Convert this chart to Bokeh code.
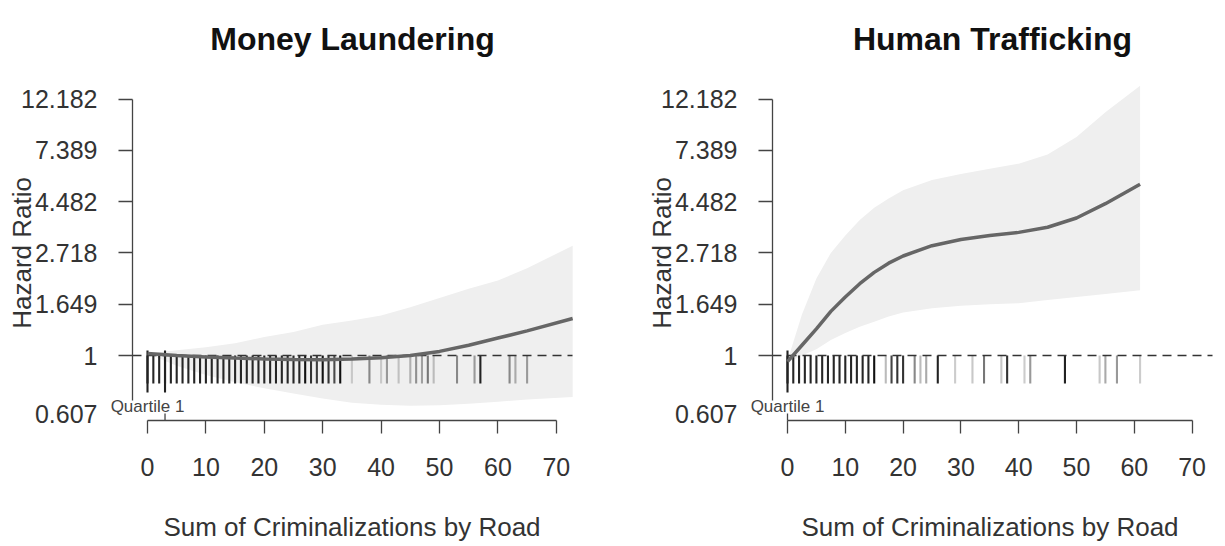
import math
from bokeh.plotting import figure
from bokeh.models import FixedTicker, Label, Range1d, ColumnDataSource
from bokeh.layouts import row
from bokeh.embed import file_html
from bokeh.resources import INLINE

FONT = "Liberation Sans"

# ---------------- data ----------------
titles = ["Money Laundering", "Human Trafficking"]
x_label = "Sum of Criminalizations by Road"
y_label = "Hazard Ratio"
x_ticks = [0, 10, 20, 30, 40, 50, 60, 70]
y_ticks = [0.0, 0.5, 1.0, 1.5, 2.0, 2.5]          # log hazard ratio
y_tick_labels = ["1", "1.649", "2.718", "4.482", "7.389", "12.182"]
y_low_tick = -0.5
y_low_label = "0.607"
quartile_label = "Quartile 1"

# Money Laundering: smoothed log hazard ratio with confidence band
ml_x = [0, 5, 10, 15, 20, 25, 30, 35, 40, 45, 50, 55, 60, 65, 72.8]
ml_fit = [0.02, 0.0, -0.015, -0.025, -0.033, -0.04, -0.042, -0.035, -0.022, 0.0, 0.04, 0.10, 0.17, 0.24, 0.36]
ml_lo = [0.02, -0.10, -0.19, -0.26, -0.32, -0.37, -0.42, -0.46, -0.48, -0.49, -0.485, -0.47, -0.45, -0.43, -0.405]
ml_hi = [0.02, 0.05, 0.08, 0.12, 0.18, 0.23, 0.30, 0.34, 0.39, 0.47, 0.56, 0.65, 0.73, 0.85, 1.07]
ml_rug = list(range(0, 34)) + [35, 38, 40, 41, 43, 45, 46, 47, 48, 49, 53, 56, 57, 62, 63, 65]
ml_rug_color = (["#262626"] * 27 + ["#111111", "#333333", "#3c3c3c", "#111111", "#333333", "#4a4a4a", "#111111"]
                + ["#c8c8c8", "#888888", "#c8c8c8", "#999999", "#c0c0c0", "#b0b0b0", "#909090",
                   "#a0a0a0", "#777777", "#bbbbbb", "#888888", "#999999", "#222222", "#888888",
                   "#aaaaaa", "#999999"])
ml_tall = [0, 3]
ml_q1 = 3

# Human Trafficking
ht_x = [0, 2.5, 5, 7.5, 10, 12.5, 15, 17.5, 20, 25, 30, 35, 40, 45, 50, 55, 61]
ht_fit = [-0.06, 0.10, 0.26, 0.43, 0.57, 0.70, 0.81, 0.90, 0.97, 1.07, 1.13, 1.17, 1.20, 1.25, 1.34, 1.48, 1.67]
ht_lo = [-0.07, 0.0, 0.06, 0.15, 0.22, 0.28, 0.33, 0.38, 0.42, 0.46, 0.485, 0.50, 0.51, 0.54, 0.57, 0.60, 0.635]
ht_hi = [-0.05, 0.40, 0.75, 1.00, 1.17, 1.32, 1.44, 1.53, 1.61, 1.71, 1.77, 1.82, 1.87, 1.96, 2.13, 2.37, 2.63]
ht_rug = list(range(0, 16)) + [17, 18, 19, 20, 22, 23, 24, 26, 29, 32, 34, 37, 38, 41, 42, 48, 54, 55, 57, 61]
ht_rug_color = (["#262626"] * 15 + ["#111111"]
                + ["#bbbbbb", "#444444", "#333333", "#333333", "#888888", "#bbbbbb", "#aaaaaa",
                   "#222222", "#cccccc", "#c8c8c8", "#777777", "#c8c8c8", "#333333", "#cccccc",
                   "#999999", "#222222", "#c8c8c8", "#aaaaaa", "#999999", "#cccccc"])
ht_tall = [0]
ht_q1 = 0

# ---------------- layout / style ----------------
HEIGHT = 544
Y0_PX, Y_PPU = 355.0, 102.6          # pixel row of log-HR 0, pixels per log unit


def y_at(py):
    return (Y0_PX - py) / Y_PPU


Y_RANGE = (y_at(HEIGHT), y_at(0))
X_AXIS_Y = y_at(420)                 # where the x axis sits
Y_AXIS_BOTTOM = y_at(400)            # lower end of the y axis line
RUG_TOP, RUG_BOTTOM = 0.0, y_at(383)
TALL_TOP, TALL_BOTTOM = y_at(350), y_at(392)
QTICK_TOP = y_at(413)
TXT = "#333333"
AX = "#444444"


def panel(title, xs, fit, lo, hi, rug, rug_col, tall, q1, width, x0_px, ppu, yaxis_px, right_px):
    def x_at(px):
        return (px - x0_px) / ppu

    p = figure(width=width, height=HEIGHT, x_range=Range1d(x_at(0), x_at(width)),
               y_range=Range1d(*Y_RANGE), output_backend="svg", toolbar_location=None,
               min_border_left=0, min_border_right=0, min_border_top=0, min_border_bottom=0)
    p.outline_line_color = None
    p.xgrid.visible = False
    p.ygrid.visible = False
    p.background_fill_color = "white"
    p.border_fill_color = "white"

    yaxis_x = x_at(yaxis_px)
    plot_right = x_at(right_px)

    xa = p.xaxis[0]
    xa.fixed_location = X_AXIS_Y
    xa.ticker = FixedTicker(ticks=x_ticks)
    xa.bounds = (x_ticks[0], x_ticks[-1])
    xa.major_tick_out = 13
    xa.major_tick_in = 0
    xa.minor_tick_line_color = None
    xa.axis_line_color = AX
    xa.major_tick_line_color = AX
    xa.axis_line_width = 1.3
    xa.major_tick_line_width = 1.3
    xa.major_label_text_font = FONT
    xa.major_label_text_font_size = "25px"
    xa.major_label_text_color = TXT
    xa.major_label_standoff = 24
    xa.axis_label = x_label
    xa.axis_label_text_font = FONT
    xa.axis_label_text_font_size = "26px"
    xa.axis_label_text_font_style = "normal"
    xa.axis_label_text_color = TXT
    xa.axis_label_standoff = 33

    ya = p.yaxis[0]
    ya.fixed_location = yaxis_x
    ya.ticker = FixedTicker(ticks=y_ticks)
    ya.bounds = (Y_AXIS_BOTTOM, y_ticks[-1])
    ya.major_label_overrides = dict(zip(y_ticks, y_tick_labels))
    ya.major_tick_out = 14
    ya.major_tick_in = 0
    ya.minor_tick_line_color = None
    ya.axis_line_color = AX
    ya.major_tick_line_color = AX
    ya.axis_line_width = 1.3
    ya.major_tick_line_width = 1.3
    ya.major_label_text_font = FONT
    ya.major_label_text_font_size = "25px"
    ya.major_label_text_color = TXT
    ya.major_label_standoff = 21

    # confidence band
    p.varea(x=xs, y1=lo, y2=hi, fill_color="#efefef")

    # rug
    src = ColumnDataSource(dict(x=rug, c=rug_col))
    p.segment(x0="x", y0=RUG_TOP, x1="x", y1=RUG_BOTTOM, source=src, line_color="c", line_width=2.1)
    p.segment(x0=tall, y0=[TALL_TOP] * len(tall), x1=tall, y1=[TALL_BOTTOM] * len(tall),
              line_color="#222222", line_width=2.1)

    # reference line at HR = 1 across the plot region
    p.segment(x0=[yaxis_x], y0=[0.0], x1=[plot_right], y1=[0.0],
              line_color="#333333", line_width=1.3, line_dash="9 6")

    # fitted curve
    p.line(xs, fit, line_color="#666666", line_width=3.5)

    # quartile tick on x axis
    p.segment(x0=[q1], y0=[X_AXIS_Y], x1=[q1], y1=[QTICK_TOP], line_color=AX, line_width=1.3)

    # texts
    p.add_layout(Label(x=(yaxis_x + plot_right) / 2, y=y_at(38), text=title, text_align="center",
                       text_baseline="alphabetic", text_font=FONT, text_font_size="32px",
                       text_font_style="bold", text_color="#111111"))
    p.add_layout(Label(x=yaxis_x, x_offset=-35, y=y_at(413), text=y_low_label,
                       text_align="right", text_baseline="middle", text_font=FONT,
                       text_font_size="25px", text_color=TXT))
    p.add_layout(Label(x=yaxis_x, x_offset=-110.5, y=1.0, text=y_label, angle=math.pi / 2,
                       text_align="center", text_baseline="middle", text_font=FONT,
                       text_font_size="26px", text_color=TXT))
    p.add_layout(Label(x=0, y=y_at(406), text=quartile_label, text_align="center",
                       text_baseline="middle", text_font=FONT, text_font_size="17px",
                       text_color="#444444"))
    return p


p1 = panel(titles[0], ml_x, ml_fit, ml_lo, ml_hi, ml_rug, ml_rug_color, ml_tall, ml_q1,
           612, 147.0, 5.84, 132.0, 572.0)
p2 = panel(titles[1], ht_x, ht_fit, ht_lo, ht_hi, ht_rug, ht_rug_color, ht_tall, ht_q1,
           613, 175.0, 5.78, 160.0, 600.0)

layout = row(p1, p2)
open("out.html", "w").write(file_html(layout, INLINE))
